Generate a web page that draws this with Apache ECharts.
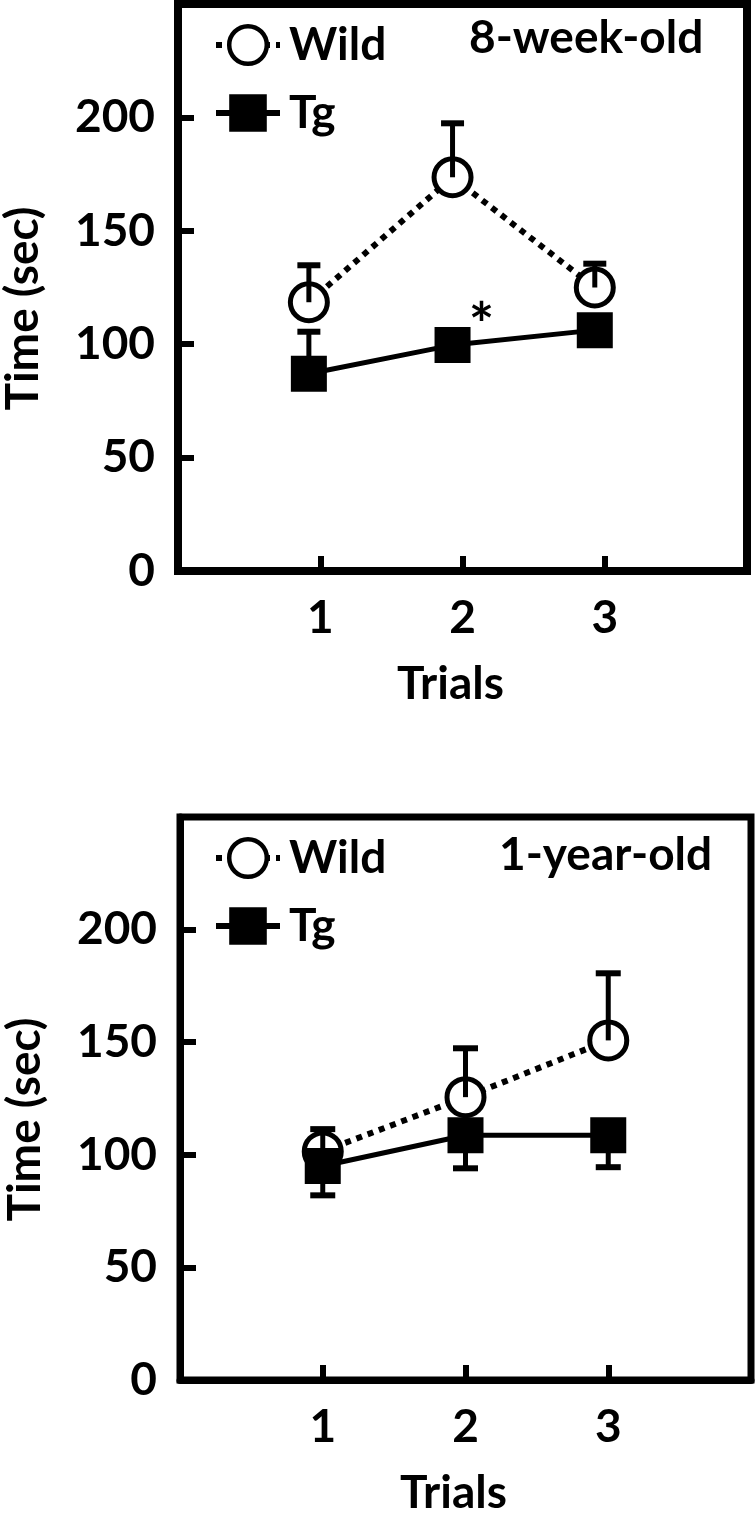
<!DOCTYPE html>
<html>
<head>
<meta charset="utf-8">
<script src="https://cdn.jsdelivr.net/npm/echarts@6/dist/echarts.min.js"></script>
<style>
html,body{margin:0;padding:0;background:#fff;}
#c{width:756px;height:1515px;}
</style>
</head>
<body>
<div id="c"></div>
<script>
// ---- data ----
const xTickLabels = ['1', '2', '3'];
const yTickLabels = ['0', '50', '100', '150', '200'];
const panelTitles = ['8-week-old', '1-year-old'];
const seriesNames = ['Wild', 'Tg'];

// 8-week-old panel (markers are drawn slightly left of the tick marks)
const trialPos8w = [0.92, 1.93, 2.93];
const wild8w = [118.5, 173.6, 125.0];
const wild8wErrUp = [16.3, 23.8, 10.5];
const tg8w = [87.0, 99.6, 106.2];
const tg8wErrUp = [18.5, 0, 0];

// 1-year-old panel
const trialPos1y = [1, 2, 3];
const wild1y = [101.5, 125.6, 150.8];
const wild1yErrUp = [9.9, 21.7, 29.8];
const tg1y = [95.0, 108.7, 108.7];
const tg1yErrDown = [13.0, 14.7, 14.2];

const FONT = 'Lato';
const BLACK = '#000';

function pts(xs, ys) { return xs.map((x, i) => [x, ys[i]]); }
function errPts(xs, ys, es, sign) {
  return xs.map((x, i) => [x, ys[i], sign * es[i]]).filter(d => d[2] !== 0);
}

function errRender(capW, stemW, capT) {
  return function (params, api) {
    const x = api.value(0), y = api.value(1), e = api.value(2);
    const p0 = api.coord([x, y]);
    const p1 = api.coord([x, y + e]);
    return {
      type: 'group',
      children: [
        { type: 'line', shape: { x1: p0[0], y1: p0[1], x2: p1[0], y2: p1[1] },
          style: { stroke: BLACK, lineWidth: stemW } },
        { type: 'line', shape: { x1: p1[0] - capW / 2, y1: p1[1], x2: p1[0] + capW / 2, y2: p1[1] },
          style: { stroke: BLACK, lineWidth: capT } }
      ]
    };
  };
}

const textBase = { fontFamily: FONT, fontWeight: 'bold', fontSize: 46, color: BLACK };

function xAxisCfg(gridIndex, lw) {
  return {
    type: 'value', gridIndex, min: 0, max: 4, interval: 1,
    name: 'Trials', nameLocation: 'middle', nameGap: 90,
    nameTextStyle: Object.assign({}, textBase, { padding: [0, 24, 0, 0] }),
    axisLine: { show: true, lineStyle: { color: BLACK, width: lw } },
    axisTick: { show: true, inside: true, length: 15, lineStyle: { color: BLACK, width: 6 } },
    axisLabel: Object.assign({}, textBase, {
      margin: 24,
      formatter: v => (v >= 1 && v <= 3) ? xTickLabels[v - 1] : ''
    }),
    splitLine: { show: false }
  };
}
function yAxisCfg(gridIndex, lw) {
  return {
    type: 'value', gridIndex, min: 0, max: 250, interval: 50,
    name: 'Time (sec)', nameLocation: 'middle', nameGap: 132, nameRotate: 90,
    nameTextStyle: Object.assign({}, textBase, { padding: [0, 42, 0, 0] }),
    axisLine: { show: true, lineStyle: { color: BLACK, width: lw } },
    axisTick: { show: true, inside: true, length: 16, lineStyle: { color: BLACK, width: 6 } },
    axisLabel: Object.assign({}, textBase, {
      margin: 23,
      formatter: v => v <= 200 ? yTickLabels[v / 50] : ''
    }),
    splitLine: { show: false }
  };
}

function legendCfg(top) {
  return {
    orient: 'vertical', left: 213, top: top, padding: 0,
    itemWidth: 64, itemHeight: 47, itemGap: 22,
    textStyle: Object.assign({}, textBase, { padding: [0, 0, 0, 4] }),
    selectedMode: false,
    data: [
      { name: seriesNames[0],
        itemStyle: { color: '#fff', borderColor: BLACK, borderWidth: 4.5 },
        lineStyle: { color: BLACK, width: 6, type: [6, 6] } },
      { name: seriesNames[1],
        itemStyle: { color: BLACK, borderColor: BLACK, borderWidth: 0 },
        lineStyle: { color: BLACK, width: 6, type: 'solid' } }
    ]
  };
}

function wildLine(xi, xs, ys) {
  return {
    name: seriesNames[0], type: 'line', xAxisIndex: xi, yAxisIndex: xi,
    data: pts(xs, ys), z: 2,
    symbol: 'circle', symbolSize: 37,
    itemStyle: { color: '#fff', borderColor: BLACK, borderWidth: 5 },
    lineStyle: { color: BLACK, width: 6, type: [6, 6], cap: 'butt' }
  };
}
function tgLine(xi, xs, ys, starIndex) {
  const data = pts(xs, ys).map((d, i) => {
    if (i === starIndex) {
      return { value: d, label: { show: true, position: 'inside', formatter: '*',
        offset: [29, -18], fontFamily: FONT, fontWeight: 'bold', fontSize: 60, color: BLACK } };
    }
    return d;
  });
  return {
    name: seriesNames[1], type: 'line', xAxisIndex: xi, yAxisIndex: xi,
    data, z: 4,
    symbol: 'rect', symbolSize: 36,
    itemStyle: { color: BLACK },
    lineStyle: { color: BLACK, width: 5, type: 'solid' }
  };
}
function errSeries(name, xi, data, z, capW) {
  return {
    name, type: 'custom', xAxisIndex: xi, yAxisIndex: xi, z,
    renderItem: errRender(capW, 5, 6), data, silent: true
  };
}

const option = {
  animation: false,
  backgroundColor: '#fff',
  grid: [
    { left: 178, top: 4, width: 569, height: 567, show: true, borderColor: BLACK, borderWidth: 8,
      backgroundColor: 'transparent', containLabel: false, outerBoundsMode: 'none' },
    { left: 180, top: 817, width: 571, height: 563, show: true, borderColor: BLACK, borderWidth: 7,
      backgroundColor: 'transparent', containLabel: false, outerBoundsMode: 'none' }
  ],
  title: [
    { text: panelTitles[0], left: 464, top: 10, textStyle: textBase },
    { text: panelTitles[1], left: 494, top: 827, textStyle: textBase }
  ],
  legend: [legendCfg(22), legendCfg(835)],
  xAxis: [xAxisCfg(0, 8), xAxisCfg(1, 7)],
  yAxis: [yAxisCfg(0, 8), yAxisCfg(1, 7)],
  series: [
    wildLine(0, trialPos8w, wild8w),
    errSeries('Wild error', 0, errPts(trialPos8w, wild8w, wild8wErrUp, 1), 3, 23),
    tgLine(0, trialPos8w, tg8w, 1),
    errSeries('Tg error', 0, errPts(trialPos8w, tg8w, tg8wErrUp, 1), 5, 23),

    wildLine(1, trialPos1y, wild1y),
    errSeries('Wild error', 1, errPts(trialPos1y, wild1y, wild1yErrUp, 1), 3, 25),
    tgLine(1, trialPos1y, tg1y, -1),
    errSeries('Tg error', 1, errPts(trialPos1y, tg1y, tg1yErrDown, -1), 5, 25)
  ]
};

const chart = echarts.init(document.getElementById('c'), null, { renderer: 'canvas' });
chart.setOption(option);
</script>
</body>
</html>
